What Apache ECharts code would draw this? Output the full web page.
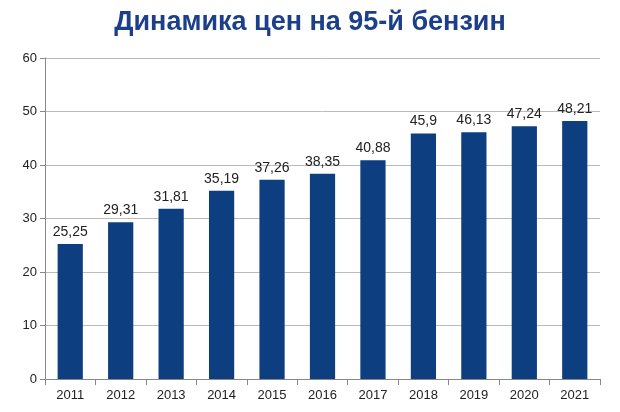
<!DOCTYPE html>
<html>
<head>
<meta charset="utf-8">
<script src="https://cdn.jsdelivr.net/npm/echarts@6/dist/echarts.min.js"></script>
<style>html,body{margin:0;padding:0;background:#fff}#c{width:620px;height:412px}</style>
</head>
<body>
<div id="c"></div>
<script>
var years = ['2011','2012','2013','2014','2015','2016','2017','2018','2019','2020','2021']
var prices = [25.25, 29.31, 31.81, 35.19, 37.26, 38.35, 40.88, 45.9, 46.13, 47.24, 48.21]

var chart = echarts.init(document.getElementById('c'))
chart.setOption({
    animation: false,
    title: {
        text: 'Динамика цен на 95-й бензин',
        left: 'center',
        top: 4,
        textStyle: {fontFamily: 'Liberation Sans', fontSize: 27, fontWeight: 'bold', color: '#1c3f8c'}
    },
    grid: {left: 45, right: 20, top: 58, bottom: 33},
    xAxis: {
        type: 'category',
        data: years,
        axisLine: {lineStyle: {color: '#888'}},
        axisTick: {show: true, length: 6, lineStyle: {color: '#888'}},
        axisLabel: {color: '#222', fontSize: 13, fontFamily: 'Liberation Sans', margin: 10}
    },
    yAxis: {
        type: 'value',
        min: 0, max: 60, interval: 10,
        axisLine: {show: true, lineStyle: {color: '#888'}},
        axisTick: {show: true, length: 5, lineStyle: {color: '#888'}},
        splitLine: {lineStyle: {color: '#bbb'}},
        axisLabel: {color: '#222', fontSize: 13, fontFamily: 'Liberation Sans'}
    },
    series: [{
        type: 'bar',
        data: prices,
        barWidth: '50%',
        itemStyle: {color: '#0d3f80'},
        label: {
            show: true,
            position: 'top',
            color: '#222',
            fontSize: 14,
            fontFamily: 'Liberation Sans',
            formatter: function (p) { return String(p.value).replace('.', ',') }
        }
    }]
})
</script>
</body>
</html>
